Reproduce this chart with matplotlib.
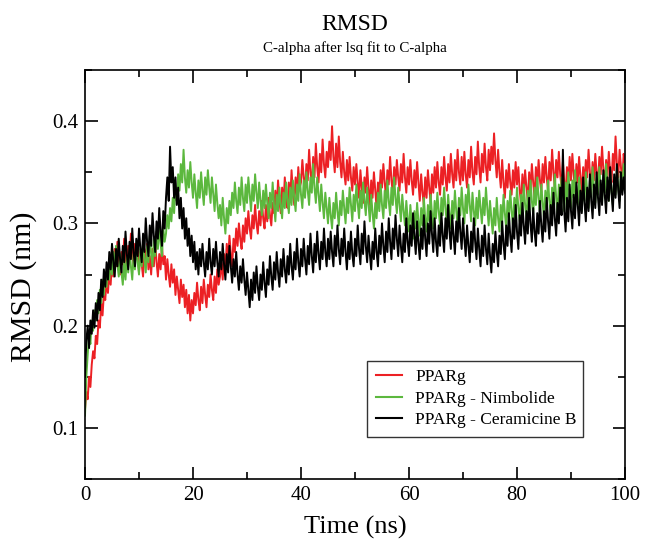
import numpy as np
import matplotlib
import matplotlib.pyplot as plt
from matplotlib.ticker import MultipleLocator

matplotlib.use('agg')  # headless matplotlib

# RMSD values (nm), sampled every 0.25 ns from 0 to 100 ns (20 values = 5 ns per row)
pparg = [
    0.118, 0.135, 0.128, 0.150, 0.140, 0.162, 0.175, 0.168, 0.190, 0.182, 0.205, 0.198, 0.222, 0.210, 0.232, 0.225, 0.245, 0.232, 0.252, 0.240,
    0.262, 0.248, 0.275, 0.258, 0.282, 0.265, 0.250, 0.272, 0.260, 0.285, 0.268, 0.255, 0.278, 0.262, 0.290, 0.270, 0.258, 0.280, 0.265, 0.275,
    0.252, 0.272, 0.260, 0.248, 0.275, 0.262, 0.280, 0.255, 0.268, 0.250, 0.275, 0.258, 0.282, 0.262, 0.248, 0.270, 0.255, 0.278, 0.260, 0.268,
    0.245, 0.265, 0.250, 0.238, 0.260, 0.242, 0.255, 0.230, 0.248, 0.235, 0.222, 0.245, 0.228, 0.240, 0.218, 0.235, 0.212, 0.230, 0.205, 0.225,
    0.212, 0.232, 0.220, 0.242, 0.225, 0.215, 0.238, 0.222, 0.245, 0.230, 0.218, 0.240, 0.228, 0.250, 0.235, 0.225, 0.248, 0.232, 0.255, 0.240,
    0.248, 0.262, 0.245, 0.270, 0.255, 0.280, 0.262, 0.288, 0.270, 0.258, 0.285, 0.272, 0.295, 0.278, 0.300, 0.285, 0.275, 0.298, 0.282, 0.305,
    0.290, 0.312, 0.295, 0.285, 0.308, 0.295, 0.318, 0.300, 0.290, 0.312, 0.298, 0.322, 0.305, 0.295, 0.318, 0.302, 0.325, 0.308, 0.298, 0.320,
    0.310, 0.332, 0.315, 0.342, 0.322, 0.310, 0.335, 0.318, 0.345, 0.325, 0.315, 0.340, 0.322, 0.352, 0.330, 0.318, 0.345, 0.328, 0.355, 0.335,
    0.340, 0.362, 0.345, 0.332, 0.358, 0.342, 0.372, 0.350, 0.338, 0.365, 0.345, 0.378, 0.355, 0.340, 0.368, 0.350, 0.382, 0.358, 0.345, 0.370,
    0.355, 0.380, 0.362, 0.395, 0.365, 0.350, 0.378, 0.355, 0.385, 0.360, 0.345, 0.370, 0.350, 0.338, 0.362, 0.342, 0.365, 0.345, 0.332, 0.355,
    0.338, 0.358, 0.340, 0.325, 0.352, 0.335, 0.320, 0.345, 0.330, 0.355, 0.335, 0.318, 0.342, 0.325, 0.350, 0.332, 0.315, 0.340, 0.328, 0.352,
    0.335, 0.358, 0.340, 0.325, 0.352, 0.338, 0.365, 0.342, 0.330, 0.355, 0.338, 0.362, 0.345, 0.332, 0.358, 0.340, 0.368, 0.345, 0.330, 0.355,
    0.338, 0.362, 0.342, 0.328, 0.352, 0.335, 0.360, 0.340, 0.322, 0.348, 0.330, 0.318, 0.345, 0.325, 0.352, 0.335, 0.320, 0.348, 0.330, 0.355,
    0.335, 0.360, 0.340, 0.328, 0.355, 0.338, 0.365, 0.345, 0.332, 0.358, 0.340, 0.368, 0.348, 0.335, 0.362, 0.342, 0.372, 0.350, 0.338, 0.365,
    0.342, 0.370, 0.348, 0.335, 0.362, 0.345, 0.375, 0.350, 0.338, 0.365, 0.348, 0.380, 0.355, 0.340, 0.368, 0.350, 0.378, 0.355, 0.342, 0.372,
    0.352, 0.375, 0.358, 0.388, 0.362, 0.345, 0.372, 0.350, 0.335, 0.362, 0.340, 0.325, 0.352, 0.335, 0.358, 0.340, 0.328, 0.352, 0.335, 0.360,
    0.338, 0.355, 0.332, 0.320, 0.348, 0.330, 0.352, 0.335, 0.322, 0.350, 0.332, 0.358, 0.340, 0.325, 0.355, 0.338, 0.362, 0.342, 0.330, 0.358,
    0.340, 0.365, 0.345, 0.332, 0.360, 0.342, 0.372, 0.350, 0.335, 0.362, 0.345, 0.370, 0.348, 0.335, 0.360, 0.340, 0.328, 0.355, 0.338, 0.365,
    0.342, 0.368, 0.348, 0.332, 0.358, 0.340, 0.365, 0.345, 0.330, 0.355, 0.338, 0.362, 0.345, 0.372, 0.350, 0.335, 0.360, 0.342, 0.368, 0.348,
    0.340, 0.365, 0.348, 0.375, 0.352, 0.338, 0.362, 0.345, 0.370, 0.350, 0.340, 0.368, 0.352, 0.385, 0.358, 0.345, 0.372, 0.355, 0.340, 0.368,
    0.358,
]

nimbolide = [
    0.112, 0.150, 0.172, 0.190, 0.182, 0.205, 0.195, 0.215, 0.205, 0.225, 0.212, 0.235, 0.222, 0.245, 0.230, 0.252, 0.238, 0.260, 0.245, 0.265,
    0.250, 0.272, 0.255, 0.278, 0.260, 0.248, 0.270, 0.252, 0.240, 0.262, 0.245, 0.268, 0.252, 0.275, 0.258, 0.245, 0.270, 0.255, 0.280, 0.262,
    0.250, 0.275, 0.258, 0.282, 0.265, 0.252, 0.278, 0.262, 0.288, 0.270, 0.258, 0.285, 0.268, 0.292, 0.275, 0.298, 0.280, 0.268, 0.295, 0.282,
    0.290, 0.308, 0.295, 0.315, 0.302, 0.325, 0.310, 0.335, 0.322, 0.348, 0.332, 0.358, 0.340, 0.372, 0.345, 0.330, 0.352, 0.335, 0.360, 0.340,
    0.325, 0.348, 0.330, 0.315, 0.342, 0.325, 0.350, 0.332, 0.318, 0.345, 0.328, 0.352, 0.335, 0.320, 0.345, 0.328, 0.312, 0.338, 0.320, 0.305,
    0.318, 0.298, 0.325, 0.305, 0.290, 0.315, 0.300, 0.322, 0.308, 0.330, 0.315, 0.340, 0.322, 0.310, 0.335, 0.318, 0.345, 0.325, 0.312, 0.338,
    0.320, 0.345, 0.328, 0.312, 0.338, 0.322, 0.348, 0.330, 0.315, 0.340, 0.322, 0.308, 0.332, 0.315, 0.338, 0.320, 0.305, 0.330, 0.315, 0.340,
    0.318, 0.302, 0.328, 0.312, 0.335, 0.318, 0.305, 0.330, 0.315, 0.340, 0.322, 0.310, 0.335, 0.318, 0.342, 0.325, 0.312, 0.338, 0.322, 0.348,
    0.328, 0.315, 0.342, 0.325, 0.350, 0.332, 0.318, 0.345, 0.330, 0.358, 0.335, 0.320, 0.345, 0.328, 0.312, 0.338, 0.320, 0.305, 0.330, 0.315,
    0.300, 0.325, 0.308, 0.295, 0.320, 0.305, 0.330, 0.312, 0.298, 0.322, 0.308, 0.332, 0.315, 0.300, 0.325, 0.310, 0.335, 0.318, 0.302, 0.328,
    0.312, 0.338, 0.320, 0.305, 0.332, 0.315, 0.340, 0.322, 0.308, 0.335, 0.318, 0.302, 0.328, 0.310, 0.295, 0.320, 0.305, 0.330, 0.312, 0.338,
    0.318, 0.305, 0.332, 0.315, 0.342, 0.322, 0.308, 0.335, 0.318, 0.345, 0.325, 0.310, 0.335, 0.318, 0.302, 0.328, 0.312, 0.298, 0.322, 0.305,
    0.292, 0.318, 0.300, 0.285, 0.312, 0.295, 0.320, 0.302, 0.288, 0.315, 0.298, 0.325, 0.305, 0.292, 0.318, 0.302, 0.328, 0.310, 0.295, 0.322,
    0.305, 0.330, 0.312, 0.298, 0.325, 0.308, 0.335, 0.315, 0.300, 0.328, 0.310, 0.295, 0.322, 0.305, 0.332, 0.312, 0.298, 0.325, 0.308, 0.335,
    0.315, 0.300, 0.328, 0.310, 0.338, 0.318, 0.302, 0.330, 0.312, 0.298, 0.325, 0.305, 0.332, 0.315, 0.300, 0.325, 0.308, 0.335, 0.315, 0.298,
    0.322, 0.305, 0.290, 0.315, 0.298, 0.325, 0.305, 0.292, 0.318, 0.300, 0.328, 0.310, 0.295, 0.322, 0.305, 0.332, 0.312, 0.298, 0.325, 0.308,
    0.335, 0.315, 0.302, 0.328, 0.310, 0.338, 0.318, 0.305, 0.332, 0.315, 0.342, 0.322, 0.308, 0.335, 0.318, 0.345, 0.325, 0.310, 0.338, 0.320,
    0.305, 0.332, 0.315, 0.342, 0.322, 0.308, 0.335, 0.318, 0.348, 0.325, 0.310, 0.338, 0.320, 0.345, 0.328, 0.312, 0.340, 0.322, 0.350, 0.330,
    0.315, 0.342, 0.325, 0.352, 0.332, 0.318, 0.345, 0.328, 0.312, 0.338, 0.322, 0.350, 0.330, 0.315, 0.342, 0.325, 0.355, 0.335, 0.320, 0.348,
    0.328, 0.355, 0.335, 0.320, 0.348, 0.330, 0.358, 0.338, 0.322, 0.350, 0.332, 0.318, 0.345, 0.328, 0.355, 0.335, 0.322, 0.350, 0.332, 0.358,
    0.340,
]

ceramicine_b = [
    0.150, 0.185, 0.200, 0.178, 0.205, 0.192, 0.215, 0.198, 0.222, 0.205, 0.232, 0.215, 0.245, 0.228, 0.255, 0.238, 0.262, 0.245, 0.272, 0.255,
    0.280, 0.262, 0.248, 0.275, 0.258, 0.285, 0.265, 0.252, 0.278, 0.262, 0.292, 0.270, 0.255, 0.282, 0.265, 0.295, 0.272, 0.258, 0.285, 0.268,
    0.295, 0.275, 0.262, 0.290, 0.272, 0.305, 0.282, 0.268, 0.298, 0.278, 0.310, 0.288, 0.272, 0.302, 0.285, 0.315, 0.292, 0.278, 0.312, 0.295,
    0.325, 0.345, 0.322, 0.375, 0.340, 0.355, 0.325, 0.345, 0.318, 0.335, 0.305, 0.325, 0.295, 0.315, 0.285, 0.305, 0.278, 0.295, 0.268, 0.288,
    0.262, 0.282, 0.255, 0.272, 0.250, 0.275, 0.258, 0.280, 0.262, 0.248, 0.272, 0.255, 0.285, 0.262, 0.250, 0.275, 0.258, 0.282, 0.262, 0.248,
    0.272, 0.255, 0.280, 0.260, 0.245, 0.270, 0.252, 0.278, 0.258, 0.242, 0.265, 0.248, 0.272, 0.250, 0.235, 0.258, 0.242, 0.265, 0.245, 0.230,
    0.252, 0.235, 0.218, 0.245, 0.225, 0.252, 0.232, 0.258, 0.238, 0.225, 0.250, 0.235, 0.262, 0.242, 0.228, 0.255, 0.240, 0.268, 0.248, 0.235,
    0.262, 0.245, 0.272, 0.252, 0.238, 0.265, 0.248, 0.275, 0.255, 0.242, 0.268, 0.250, 0.280, 0.258, 0.245, 0.272, 0.255, 0.285, 0.262, 0.248,
    0.275, 0.258, 0.285, 0.265, 0.250, 0.278, 0.260, 0.290, 0.268, 0.252, 0.280, 0.262, 0.292, 0.270, 0.255, 0.282, 0.265, 0.295, 0.272, 0.258,
    0.285, 0.265, 0.292, 0.272, 0.258, 0.288, 0.268, 0.298, 0.275, 0.260, 0.285, 0.268, 0.295, 0.272, 0.255, 0.282, 0.265, 0.292, 0.270, 0.258,
    0.285, 0.268, 0.298, 0.275, 0.260, 0.290, 0.270, 0.302, 0.278, 0.262, 0.288, 0.270, 0.255, 0.282, 0.265, 0.295, 0.272, 0.258, 0.288, 0.270,
    0.300, 0.278, 0.262, 0.292, 0.272, 0.305, 0.282, 0.265, 0.295, 0.275, 0.308, 0.285, 0.268, 0.298, 0.278, 0.262, 0.290, 0.272, 0.305, 0.282,
    0.268, 0.298, 0.278, 0.310, 0.288, 0.270, 0.302, 0.280, 0.265, 0.295, 0.275, 0.308, 0.285, 0.268, 0.300, 0.280, 0.312, 0.290, 0.272, 0.305,
    0.282, 0.268, 0.298, 0.278, 0.310, 0.288, 0.272, 0.305, 0.285, 0.318, 0.292, 0.275, 0.308, 0.288, 0.270, 0.302, 0.282, 0.315, 0.292, 0.275,
    0.305, 0.285, 0.268, 0.298, 0.278, 0.262, 0.292, 0.272, 0.305, 0.282, 0.265, 0.295, 0.275, 0.258, 0.288, 0.268, 0.298, 0.275, 0.260, 0.290,
    0.268, 0.252, 0.280, 0.262, 0.292, 0.272, 0.258, 0.288, 0.270, 0.302, 0.280, 0.265, 0.298, 0.278, 0.310, 0.288, 0.272, 0.305, 0.285, 0.318,
    0.292, 0.275, 0.308, 0.288, 0.320, 0.298, 0.280, 0.312, 0.290, 0.325, 0.300, 0.282, 0.315, 0.292, 0.278, 0.310, 0.290, 0.322, 0.298, 0.282,
    0.312, 0.292, 0.325, 0.302, 0.285, 0.318, 0.298, 0.330, 0.305, 0.288, 0.320, 0.300, 0.335, 0.308, 0.372, 0.312, 0.292, 0.325, 0.302, 0.338,
    0.312, 0.295, 0.328, 0.305, 0.340, 0.318, 0.298, 0.332, 0.310, 0.345, 0.320, 0.302, 0.335, 0.312, 0.348, 0.322, 0.305, 0.338, 0.315, 0.350,
    0.325, 0.308, 0.342, 0.318, 0.352, 0.328, 0.310, 0.345, 0.322, 0.355, 0.330, 0.312, 0.348, 0.325, 0.358, 0.332, 0.315, 0.350, 0.328, 0.345,
    0.330,
]

series = [
    ('PPARg', pparg, '#ec2024'),
    ('PPARg - Nimbolide', nimbolide, '#5cb83e'),
    ('PPARg - Ceramicine B', ceramicine_b, '#000000'),
]

plt.rcParams['font.family'] = ['Liberation Serif', 'DejaVu Serif']

fig = plt.figure(figsize=(6.46, 5.43), dpi=100)
ax = fig.add_axes([85 / 646, 64 / 543, 540 / 646, 409 / 543])

for label, values, color in series:
    time = np.linspace(0, 100, len(values))
    ax.plot(time, values, color=color, linewidth=1.4, label=label)

ax.set_xlim(0, 100)
ax.set_ylim(0.05, 0.45)
ax.xaxis.set_major_locator(MultipleLocator(20))
ax.xaxis.set_minor_locator(MultipleLocator(10))
ax.yaxis.set_major_locator(MultipleLocator(0.1))
ax.yaxis.set_minor_locator(MultipleLocator(0.05))
ax.tick_params(which='both', direction='in', top=True, right=True,
               labelsize=15, width=1.2, pad=5)
ax.tick_params(which='major', length=9)
ax.tick_params(which='minor', length=5)
ax.set_yticks([0.1, 0.2, 0.3, 0.4])
ax.set_yticklabels(['0.1', '0.2', '0.3', '0.4'])
for spine in ax.spines.values():
    spine.set_linewidth(1.2)

ax.set_xlabel('Time (ns)', fontsize=19, labelpad=8)
ax.set_ylabel('RMSD (nm)', fontsize=21.5)
ax.yaxis.set_label_coords(-0.088, 0.47)

fig.text(355 / 646, 1 - 25 / 543, 'RMSD', ha='center', va='center', fontsize=17)
fig.text(355 / 646, 1 - 48 / 543, 'C-alpha after lsq fit to C-alpha',
         ha='center', va='center', fontsize=10.8)

leg = ax.legend(loc='lower left', bbox_to_anchor=(0.522, 0.103, 0.40, 0.197),
                mode='expand', fontsize=12.5, frameon=True, fancybox=False,
                handlelength=1.5, borderpad=0.5, labelspacing=0.3,
                borderaxespad=0)
leg.get_frame().set_edgecolor('black')
leg.get_frame().set_linewidth(1.0)
for line in leg.get_lines():
    line.set_linewidth(1.5)

fig.savefig('out.png', dpi=100)
